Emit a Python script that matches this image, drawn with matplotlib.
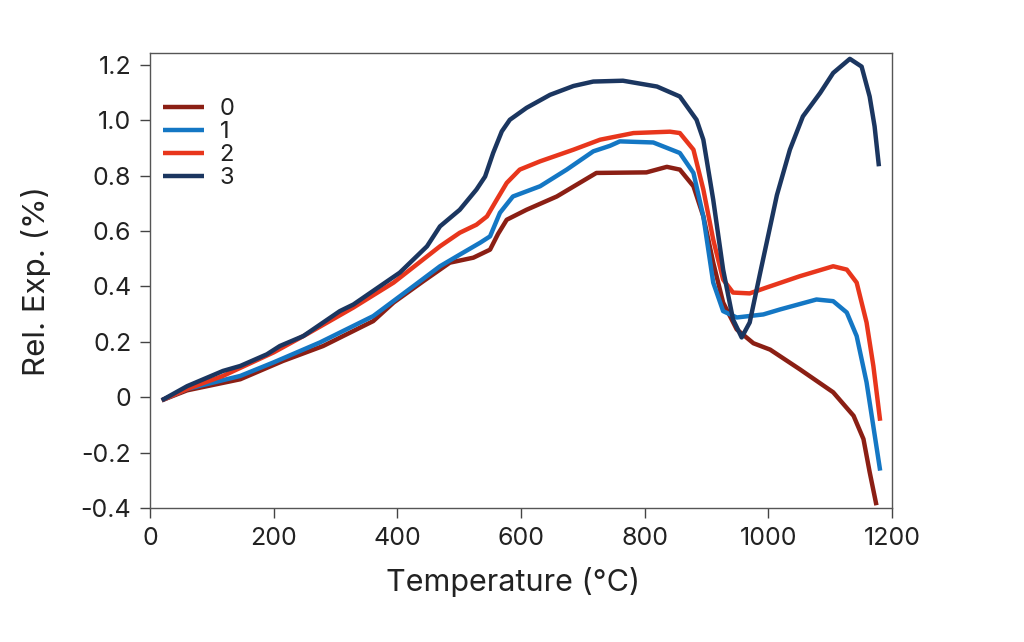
import matplotlib
matplotlib.use('Agg')
import matplotlib.pyplot as plt

# ==========================================
# Datos (Temperatura en °C, expansion relativa en %)
# ==========================================
etiquetas = ['0', '1', '2', '3']
colores = ['#8b1f14', '#1477c4', '#e8361c', '#1b3660']

t0 = [19, 60, 146, 215, 280, 361, 394, 442, 485, 523, 550, 563, 577, 609, 658, 722,
      803, 836, 857, 879, 895, 911, 927, 949, 976, 1003, 1051, 1105, 1138, 1154, 1164, 1175]
e0 = [-0.011, 0.025, 0.065, 0.131, 0.185, 0.275, 0.342, 0.419, 0.486, 0.504, 0.533, 0.59,
      0.641, 0.677, 0.725, 0.81, 0.812, 0.832, 0.822, 0.762, 0.653, 0.486, 0.342, 0.245,
      0.195, 0.172, 0.101, 0.018, -0.067, -0.151, -0.27, -0.39]

t1 = [19, 60, 146, 200, 275, 361, 426, 469, 501, 534, 550, 566, 587, 631, 674, 717, 744,
      760, 814, 857, 879, 895, 911, 927, 949, 992, 1019, 1078, 1105, 1127, 1143, 1159, 1181]
e1 = [-0.011, 0.03, 0.077, 0.126, 0.198, 0.293, 0.401, 0.473, 0.515, 0.558, 0.581, 0.666,
      0.725, 0.762, 0.822, 0.888, 0.908, 0.924, 0.92, 0.882, 0.81, 0.653, 0.414, 0.311,
      0.288, 0.299, 0.317, 0.353, 0.347, 0.306, 0.221, 0.054, -0.265]

t2 = [19, 60, 118, 200, 253, 329, 394, 469, 501, 528, 545, 561, 577, 598, 631, 685, 728,
      782, 841, 857, 879, 895, 911, 927, 943, 970, 997, 1051, 1105, 1127, 1143, 1159, 1170,
      1181]
e2 = [-0.011, 0.03, 0.077, 0.162, 0.227, 0.324, 0.414, 0.545, 0.594, 0.623, 0.653, 0.714,
      0.774, 0.822, 0.852, 0.894, 0.93, 0.954, 0.959, 0.954, 0.894, 0.75, 0.569, 0.425,
      0.378, 0.375, 0.396, 0.437, 0.473, 0.461, 0.414, 0.27, 0.113, -0.085]

t3 = [19, 60, 118, 146, 189, 210, 248, 307, 329, 372, 404, 448, 469, 501, 528, 542, 555,
      569, 582, 609, 647, 685, 717, 765, 820, 857, 884, 895, 911, 927, 943, 957, 970, 987,
      1014, 1035, 1056, 1084, 1105, 1132, 1151, 1164, 1172, 1179]
e3 = [-0.011, 0.04, 0.095, 0.113, 0.155, 0.185, 0.221, 0.311, 0.335, 0.401, 0.45, 0.545,
      0.617, 0.677, 0.75, 0.797, 0.882, 0.96, 1.002, 1.045, 1.092, 1.124, 1.14, 1.143,
      1.122, 1.086, 1.002, 0.93, 0.713, 0.461, 0.281, 0.216, 0.27, 0.45, 0.73, 0.894,
      1.014, 1.099, 1.171, 1.222, 1.194, 1.086, 0.978, 0.834]

x_ticks = [0, 200, 400, 600, 800, 1000, 1200]
y_ticks = [-0.4, -0.2, 0, 0.2, 0.4, 0.6, 0.8, 1.0, 1.2]
y_tick_labels = ['-0.4', '-0.2', '0', '0.2', '0.4', '0.6', '0.8', '1.0', '1.2']

# ==========================================
# Grafica
# ==========================================
plt.rcParams['font.family'] = ['Inter', 'DejaVu Sans']

fig = plt.figure(figsize=(10.24, 6.42), dpi=100)
ax = fig.add_axes([0.1465, 0.2087, 0.7245, 0.7087])

series = [(t0, e0), (t1, e1), (t2, e2), (t3, e3)]
for (t, e), lab, col in zip(series, etiquetas, colores):
    ax.plot(t, e, color=col, lw=3.2, label=lab, solid_capstyle='butt', solid_joinstyle='round')

ax.set_xlim(0, 1200)
ax.set_ylim(-0.4, 1.243)
ax.set_xticks(x_ticks)
ax.set_yticks(y_ticks)
ax.set_yticklabels(y_tick_labels)
ax.tick_params(axis='both', direction='out', length=7.5, width=1, color='#444444',
               labelsize=18, pad=6, labelcolor='#222222')

for s in ax.spines.values():
    s.set_color('#555555')
    s.set_linewidth(1)

ax.set_xlabel('Temperature (°C)', fontsize=22, color='#222222', labelpad=5)
ax.xaxis.set_label_coords(0.49, -0.13)
ax.set_ylabel('Rel. Exp. (%)', fontsize=22.5, color='#222222', labelpad=21)

leg = ax.legend(loc='upper left', bbox_to_anchor=(0.0, 0.93), frameon=False, fontsize=17,
                handlelength=1.75, handletextpad=0.65, labelspacing=0.05, borderaxespad=0.15)
for txt in leg.get_texts():
    txt.set_color('#222222')

fig.savefig('out.png', dpi=100)
